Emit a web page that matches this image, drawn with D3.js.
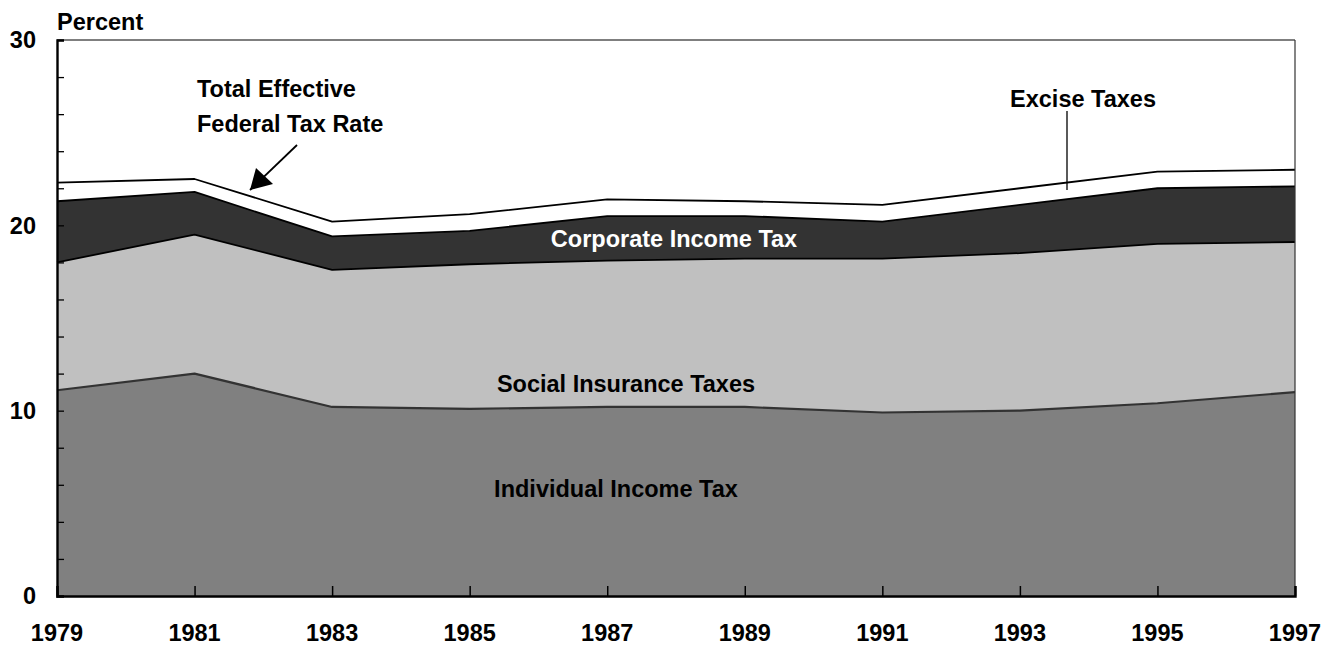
<!DOCTYPE html>
<html>
<head>
<meta charset="utf-8">
<script src="https://cdn.jsdelivr.net/npm/d3@7"></script>
<style>
  html, body { margin: 0; padding: 0; background: #fff; }
  svg { display: block; font-family: "Liberation Sans", Arial, sans-serif; font-weight: bold; }
</style>
</head>
<body>
<svg id="chart" width="1338" height="650"></svg>
<script>
// ---- data ----
const years = [1979, 1981, 1983, 1985, 1987, 1989, 1991, 1993, 1995, 1997];
const individualIncome = [11.1, 12.0, 10.2, 10.1, 10.2, 10.2, 9.9, 10.0, 10.4, 11.0];
const socialInsurance  = [6.9, 7.5, 7.4, 7.8, 7.9, 8.0, 8.3, 8.5, 8.6, 8.1];
const corporateIncome  = [3.3, 2.3, 1.8, 1.8, 2.4, 2.3, 2.0, 2.6, 3.0, 3.0];
const exciseTaxes      = [1.0, 0.7, 0.8, 0.9, 0.9, 0.8, 0.9, 0.9, 0.9, 0.9];
const seriesKeys = ["individual", "social", "corporate", "excise"];
const seriesFill = ["#808080", "#c0c0c0", "#333333", "#ffffff"];
const seriesStroke = ["#333333", "#000000", "#000000", "#000000"];
const yTickLabels = [0, 10, 20, 30];
const xTickLabels = years;

const rows = years.map((yr, i) => ({
  year: yr,
  individual: individualIncome[i],
  social: socialInsurance[i],
  corporate: corporateIncome[i],
  excise: exciseTaxes[i]
}));

// ---- layout ----
const W = 1338, H = 650;
const margin = { left: 57, right: 43, top: 40, bottom: 54 };
const svg = d3.select("#chart");
const FS = 23.5;

const x = d3.scaleLinear().domain([1979, 1997]).range([margin.left, W - margin.right]);
const y = d3.scaleLinear().domain([0, 30]).range([H - margin.bottom, margin.top]);

const stacked = d3.stack().keys(seriesKeys)(rows);

const area = d3.area()
  .x(d => x(d.data.year))
  .y0(d => y(d[0]))
  .y1(d => y(d[1]));
const topLine = d3.line()
  .x(d => x(d.data.year))
  .y(d => y(d[1]));

const g = svg.append("g");
stacked.forEach((s, i) => {
  g.append("path").attr("d", area(s)).attr("fill", seriesFill[i]).attr("stroke", "none");
});
stacked.forEach((s, i) => {
  g.append("path").attr("d", topLine(s)).attr("fill", "none")
    .attr("stroke", seriesStroke[i]).attr("stroke-width", i === 0 ? 2.2 : 1.8)
    .attr("stroke-linejoin", "round");
});

// frame (top and right thin)
svg.append("line").attr("x1", x(1979)).attr("x2", x(1997)).attr("y1", y(30)).attr("y2", y(30))
  .attr("stroke", "#000").attr("stroke-width", 1.2);
svg.append("line").attr("x1", x(1997)).attr("x2", x(1997)).attr("y1", y(30)).attr("y2", y(0))
  .attr("stroke", "#333").attr("stroke-width", 1.2);

// y axis
const yAxis = d3.axisRight(y).tickValues(d3.range(0, 31, 2)).tickSize(7).tickFormat("");
const ya = svg.append("g").attr("transform", `translate(${x(1979)},0)`).call(yAxis);
ya.select(".domain").attr("stroke", "#000").attr("stroke-width", 2.4);
ya.selectAll(".tick line").attr("stroke", "#000").attr("stroke-width", 1.3);
svg.append("g").selectAll("text").data(yTickLabels).join("text")
  .attr("x", 36).attr("y", d => y(d)).attr("dy", "0.36em")
  .attr("text-anchor", "end").attr("font-size", FS).attr("fill", "#000")
  .text(d => d);

// x axis
const xAxis = d3.axisTop(x).tickValues(years).tickSize(10).tickFormat("");
const xa = svg.append("g").attr("transform", `translate(0,${y(0)})`).call(xAxis);
xa.select(".domain").attr("stroke", "#000").attr("stroke-width", 2.4);
xa.selectAll(".tick line").attr("stroke", "#000").attr("stroke-width", 1.5);
svg.append("g").selectAll("text").data(xTickLabels).join("text")
  .attr("x", d => x(d)).attr("y", 641)
  .attr("text-anchor", "middle").attr("font-size", FS).attr("fill", "#000")
  .text(d => d);

// axis title
svg.append("text").attr("x", margin.left).attr("y", 30).attr("font-size", FS).text("Percent");

// series labels
function label(txt, cx, baseline, color) {
  svg.append("text").attr("x", cx).attr("y", baseline).attr("text-anchor", "middle")
    .attr("font-size", FS).attr("fill", color || "#000").text(txt);
}
label("Individual Income Tax", 616, 497);
label("Social Insurance Taxes", 626, 391.5);
label("Corporate Income Tax", 674, 247, "#fff");
label("Excise Taxes", 1083, 106.5);

svg.append("text").attr("x", 197).attr("y", 97).attr("font-size", FS).text("Total Effective");
svg.append("text").attr("x", 197).attr("y", 132).attr("font-size", FS).text("Federal Tax Rate");

// leader line for excise
svg.append("line").attr("x1", 1067).attr("x2", 1067).attr("y1", 111).attr("y2", 190)
  .attr("stroke", "#000").attr("stroke-width", 1.3);

// arrow for total
svg.append("defs").append("marker").attr("id", "ah")
  .attr("viewBox", "0 0 10 10").attr("refX", 10).attr("refY", 5)
  .attr("markerWidth", 11).attr("markerHeight", 9).attr("markerUnits", "userSpaceOnUse")
  .attr("orient", "auto")
  .append("path").attr("d", "M0,0 L10,5 L0,10 Z").attr("fill", "#000");
svg.append("line").attr("x1", 297).attr("y1", 145).attr("x2", 250).attr("y2", 190)
  .attr("stroke", "#000").attr("stroke-width", 1.8);
svg.append("path").attr("d", "M250,190 L256,168 L273,184 Z").attr("fill", "#000");
</script>
</body>
</html>
